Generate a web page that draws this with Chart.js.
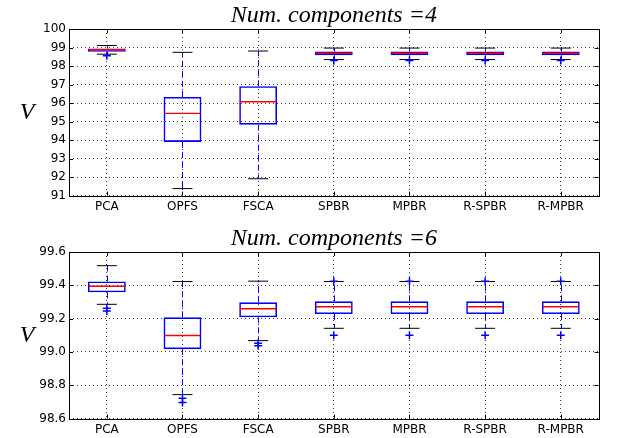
<!DOCTYPE html>
<html>
<head>
<meta charset="utf-8">
<script src="https://cdn.jsdelivr.net/npm/chart.js@4.4.1/dist/chart.umd.min.js"></script>
<style>
  body { margin: 0; background: #fff; width: 618px; height: 438px; overflow: hidden; position: relative; }
  canvas { position: absolute; left: 0; }
  #c4 { top: 0; }
  #c6 { top: 223px; }
</style>
</head>
<body>
<canvas id="c4" width="618" height="215"></canvas>
<canvas id="c6" width="618" height="215"></canvas>
<script>
// Categories
const categories = ["PCA", "OPFS", "FSCA", "SPBR", "MPBR", "R-SPBR", "R-MPBR"];

// Num. components = 4
const lo4  = [98.64, 91.38, 91.91, 98.35, 98.35, 98.35, 98.35];
const q1_4 = [98.77, 93.90, 94.83, 98.58, 98.58, 98.58, 98.58];
const med4 = [98.88, 95.44, 96.07, 98.69, 98.69, 98.69, 98.69];
const q3_4 = [98.95, 96.33, 96.91, 98.78, 98.78, 98.78, 98.78];
const hi4  = [99.11, 98.74, 98.81, 98.97, 98.97, 98.97, 98.97];
const fliers4 = [[98.55], [], [], [98.30], [98.30], [98.30], [98.30]];
const yTicks4 = [91, 92, 93, 94, 95, 96, 97, 98, 99, 100];

// Num. components = 6
const lo6  = [99.286, 98.744, 99.068, 99.142, 99.142, 99.142, 99.142];
const q1_6 = [99.358, 99.017, 99.208, 99.228, 99.228, 99.228, 99.228];
const med6 = [99.394, 99.099, 99.259, 99.271, 99.271, 99.271, 99.271];
const q3_6 = [99.423, 99.208, 99.298, 99.304, 99.304, 99.304, 99.304];
const hi6  = [99.518, 99.423, 99.425, 99.423, 99.423, 99.423, 99.423];
const fliers6 = [[99.262, 99.246], [98.722, 98.696], [99.052, 99.037],
                 [99.425, 99.101], [99.425, 99.101], [99.425, 99.101], [99.425, 99.101]];
const yTicks6 = [98.6, 98.8, 99.0, 99.2, 99.4, 99.6];

// whiskers, frame, inward ticks and the V label
const boxDecor = {
    id: "boxDecor",
    beforeDatasetsDraw(chart, args, opts) {
        const ctx = chart.ctx, x = chart.scales.x, y = chart.scales.y;
        ctx.save();
        ctx.strokeStyle = "#0000ff";
        ctx.lineWidth = 1;
        ctx.setLineDash([6, 4]);
        for (let i = 0; i < categories.length; i++) {
            const px = Math.round(x.getPixelForValue(i)) + 0.5;
            ctx.beginPath();
            ctx.moveTo(px, y.getPixelForValue(opts.q3[i]));
            ctx.lineTo(px, y.getPixelForValue(opts.hi[i]));
            ctx.moveTo(px, y.getPixelForValue(opts.q1[i]));
            ctx.lineTo(px, y.getPixelForValue(opts.lo[i]));
            ctx.stroke();
        }
        ctx.restore();
    },
    afterDraw(chart, args, opts) {
        const ctx = chart.ctx, a = chart.chartArea, x = chart.scales.x, y = chart.scales.y;
        ctx.save();
        ctx.strokeStyle = "#000";
        ctx.lineWidth = 1;
        ctx.beginPath();
        for (let i = 0; i < categories.length; i++) {
            const px = Math.round(x.getPixelForValue(i)) + 0.5;
            ctx.moveTo(px, a.top); ctx.lineTo(px, a.top + 4);
            ctx.moveTo(px, a.bottom); ctx.lineTo(px, a.bottom - 4);
        }
        opts.ticks.forEach(v => {
            const py = Math.round(y.getPixelForValue(v)) + 0.5;
            ctx.moveTo(a.left, py); ctx.lineTo(a.left + 4, py);
            ctx.moveTo(a.right, py); ctx.lineTo(a.right - 4, py);
        });
        ctx.stroke();
        ctx.strokeRect(Math.round(a.left) + 0.5, Math.round(a.top) + 0.5,
                       Math.round(a.right - a.left), Math.round(a.bottom - a.top));
        ctx.fillStyle = "#000";
        ctx.font = "italic 24px 'Liberation Serif'";
        ctx.textAlign = "center";
        ctx.textBaseline = "middle";
        ctx.fillText("V", 27, (a.top + a.bottom) / 2);
        ctx.restore();
    }
};

function makeChart(id, title, lo, q1, med, q3, hi, fliers, yTicks, decimals) {
    const flierPts = [];
    fliers.forEach((arr, i) => arr.forEach(v => flierPts.push({ x: categories[i], y: v })));

    return new Chart(id, {
        type: "bar",
        data: {
            labels: categories,
            datasets: [
                {
                    data: categories.map((c, i) => [q1[i], q3[i]]),
                    backgroundColor: "rgba(0,0,0,0)",
                    borderColor: "#0000ff",
                    borderWidth: 1.6,
                    borderSkipped: false,
                    barPercentage: 1,
                    categoryPercentage: 0.5,
                    order: 4
                },
                {
                    type: "line", data: lo, showLine: false, order: 3,
                    pointStyle: "line", pointRadius: 10, borderColor: "#000", pointBorderWidth: 1
                },
                {
                    type: "line", data: hi, showLine: false, order: 3,
                    pointStyle: "line", pointRadius: 10, borderColor: "#000", pointBorderWidth: 1
                },
                {
                    type: "line", data: med, showLine: false, order: 2,
                    pointStyle: "line", pointRadius: 18, borderColor: "#ff0000", pointBorderWidth: 1.4
                },
                {
                    type: "line", data: flierPts, showLine: false, order: 1,
                    pointStyle: "cross", pointRadius: 4, borderColor: "#0000ff", pointBorderWidth: 1.5
                }
            ]
        },
        options: {
            responsive: false,
            animation: false,
            layout: { padding: { left: 0, right: 18, top: 0, bottom: 0 } },
            plugins: {
                legend: { display: false },
                tooltip: { enabled: false },
                title: {
                    display: true,
                    text: title,
                    fullSize: false,
                    color: "#000",
                    font: { family: "Liberation Serif", style: "italic", size: 24, weight: "normal", lineHeight: 1.1 },
                    padding: { top: 2, bottom: 0.6 }
                },
                boxDecor: { lo: lo, q1: q1, q3: q3, hi: hi, ticks: yTicks }
            },
            scales: {
                x: {
                    offset: true,
                    grid: { offset: false, drawTicks: false, color: "rgba(0,0,0,0.75)", lineWidth: 1 },
                    border: { display: false, dash: [1, 3] },
                    ticks: { color: "#000", font: { family: "DejaVu Sans", size: 12 }, padding: 4, maxRotation: 0, autoSkip: false },
                    afterFit: s => { s.height = 15; }
                },
                y: {
                    min: yTicks[0],
                    max: yTicks[yTicks.length - 1],
                    afterBuildTicks: s => { s.ticks = yTicks.map(v => ({ value: v })); },
                    grid: { drawTicks: false, color: "rgba(0,0,0,0.75)", lineWidth: 1 },
                    border: { display: false, dash: [1, 3] },
                    ticks: {
                        color: "#000", font: { family: "DejaVu Sans", size: 12 }, padding: 3,
                        callback: v => v.toFixed(decimals)
                    },
                    afterFit: s => { s.width = 69; }
                }
            }
        },
        plugins: [boxDecor]
    });
}

makeChart("c4", "Num. components =4", lo4, q1_4, med4, q3_4, hi4, fliers4, yTicks4, 0);
makeChart("c6", "Num. components =6", lo6, q1_6, med6, q3_6, hi6, fliers6, yTicks6, 1);
</script>
</body>
</html>
